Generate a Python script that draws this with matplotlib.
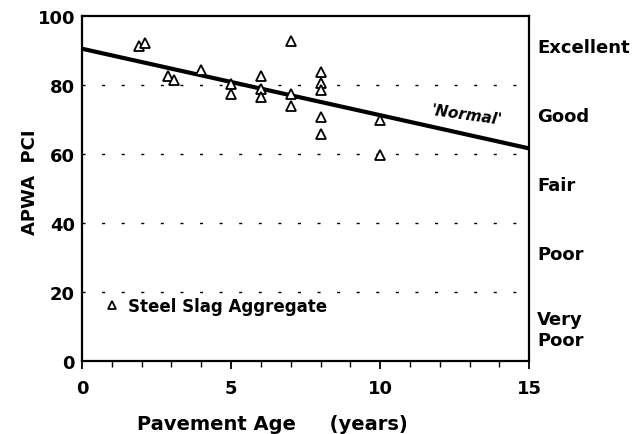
import matplotlib
matplotlib.use("Agg")
import matplotlib.pyplot as plt
from matplotlib.ticker import MultipleLocator

# data
age = [1.9, 2.1, 2.9, 3.1, 4.0, 5.0, 5.0, 6.0, 6.0, 6.0, 7.0, 7.0, 7.0,
       8.0, 8.0, 8.0, 8.0, 8.0, 10.0, 10.0]
pci = [91.3, 92.2, 82.5, 81.3, 84.2, 80.4, 77.3, 82.6, 78.7, 76.6, 92.8, 77.5, 73.8,
       83.8, 80.5, 78.6, 70.8, 65.7, 69.7, 59.6]
normal_x = [0, 15]
normal_y = [90.5, 61.6]
grid_levels = [20, 40, 60, 80]
rating_labels = ["Excellent", "Good", "Fair", "Poor", "Very\nPoor"]
rating_y = [91, 71, 51, 31, 9]

plt.rcParams['font.family'] = ['DejaVu Sans']
plt.rcParams['font.weight'] = 'bold'

fig = plt.figure(figsize=(6.36, 4.35), dpi=100)
ax = fig.add_axes([0.129, 0.168, 0.703, 0.793])

for lvl in grid_levels:
    ax.axhline(lvl, color="black", lw=1.0, dashes=(2.2, 11.9), zorder=1)

ax.plot(normal_x, normal_y, color="black", lw=3.0, zorder=2)
ax.plot(age, pci, linestyle="none", marker="^", markersize=7.5,
        markerfacecolor="white", markeredgecolor="black", markeredgewidth=1.3,
        label="Steel Slag Aggregate", zorder=3)

ax.text(12.9, 71.5, "'Normal'", fontsize=11, fontstyle="italic", fontweight="bold",
        rotation=-8, ha="center", va="center")

for lab, yv in zip(rating_labels, rating_y):
    ax.text(15.27, yv, lab, fontsize=13, fontweight="bold", ha="left", va="center",
            linespacing=1.2)

leg = ax.legend(loc="lower left", bbox_to_anchor=(0.005, 0.09), frameon=False,
                markerscale=0.85, handletextpad=0.2, handlelength=1.5,
                prop={"weight": "bold", "size": 12})

ax.set_xlim(0, 15)
ax.set_ylim(0, 100)
ax.xaxis.set_major_locator(MultipleLocator(5))
ax.xaxis.set_minor_locator(MultipleLocator(1))
ax.yaxis.set_major_locator(MultipleLocator(20))
ax.tick_params(axis="x", which="major", direction="out", length=6, width=1.3,
               labelsize=13, pad=7)
ax.tick_params(axis="x", which="minor", direction="out", length=4, width=1.0)
ax.tick_params(axis="y", which="major", length=0, labelsize=13, pad=5)
for lbl in ax.get_xticklabels() + ax.get_yticklabels():
    lbl.set_fontweight("bold")
for sp in ax.spines.values():
    sp.set_linewidth(1.6)

fig.text(30 / 636, 1 - 182 / 435, "APWA  PCI", fontsize=13, fontweight="bold",
         rotation=90, ha="center", va="center")
fig.text(272 / 636, 1 - 425 / 435, "Pavement Age     (years)", fontsize=14,
         fontweight="bold", ha="center", va="center")

fig.savefig("out.png", dpi=100)
